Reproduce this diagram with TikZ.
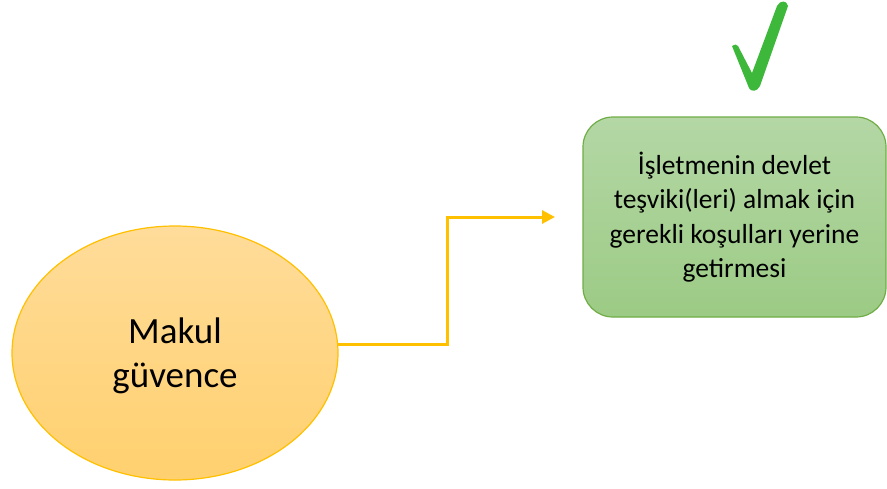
\documentclass[tikz,border=0pt]{standalone}
\usepackage{fontspec}
\setmainfont{Carlito}
\usetikzlibrary{shapes.geometric,arrows.meta}
\definecolor{ortop}{HTML}{FFDC9A}
\definecolor{orbot}{HTML}{FFD06E}
\definecolor{orline}{HTML}{FFC000}
\definecolor{grtop}{HTML}{B4D7A5}
\definecolor{grbot}{HTML}{9CCB85}
\definecolor{grline}{HTML}{70AD47}
\definecolor{tick}{HTML}{3DB83A}
\tikzset{
  ovalnode/.style={ellipse, draw=orline, line width=1.2pt, top color=ortop, bottom color=orbot,
    minimum width=326pt, minimum height=254pt, inner sep=0pt, align=center, text depth=0pt,
    font=\fontsize{37}{44}\selectfont},
  goalbox/.style={rectangle, rounded corners=30pt, draw=grline, line width=1.2pt,
    top color=grtop, bottom color=grbot, minimum width=303pt, minimum height=200pt,
    inner sep=0pt, align=center, font=\fontsize{27.5}{34.5}\selectfont},
  flow/.style={draw=orline, line width=3pt, -{Triangle[length=13pt,width=13pt]}},
}
\begin{document}
\begin{tikzpicture}[x=1pt,y=-1pt]
\useasboundingbox (0,0) rectangle (887,488);
\node[ovalnode] (e) at (175,353) {Makul\\güvence};
\node[goalbox] (b) at (734.5,217) {İşletmenin devlet\\teşviki(leri) almak için\\gerekli koşulları yerine\\getirmesi};
\coordinate (v) at (447,217);
\coordinate (t) at (555,217);
\draw[flow] (e.3) -| (v) -- (t);
\fill[tick] (732,46) .. controls (734,44) and (737,44) .. (738,46)
  -- (752,73) -- (777,6) .. controls (780,0) and (787,0) .. (788,6)
  -- (760,86) .. controls (757,92) and (751,92) .. (749,88) -- cycle;
\end{tikzpicture}
\end{document}
